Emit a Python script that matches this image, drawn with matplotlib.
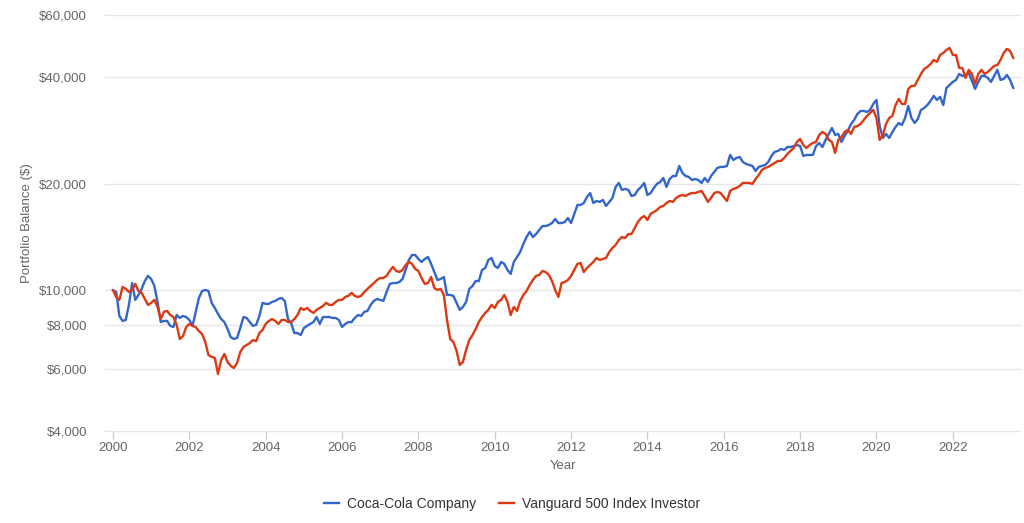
import numpy as np
import matplotlib
matplotlib.use("Agg")
import matplotlib.pyplot as plt
from matplotlib.ticker import NullLocator

plt.rcParams['font.family'] = ['Liberation Sans', 'DejaVu Sans']

# monthly portfolio balance, thousands of $, Jan 2000 .. Aug 2023
coke_k = [
    10.00, 9.89, 8.46, 8.19, 8.24, 9.09, 10.48, 9.39, 9.70, 10.09, 10.62, 10.98,
    10.76, 10.28, 9.27, 8.13, 8.19, 8.19, 7.93, 7.87, 8.51, 8.35, 8.46, 8.40,
    8.24, 7.93, 8.69, 9.51, 9.95, 10.02, 9.95, 9.21, 8.91, 8.57, 8.29, 8.13,
    7.77, 7.37, 7.28, 7.33, 7.82, 8.40, 8.35, 8.13, 7.93, 7.98, 8.46, 9.21,
    9.15, 9.15, 9.27, 9.33, 9.45, 9.51, 9.33, 8.29, 8.08, 7.57, 7.57, 7.47,
    7.82, 7.93, 8.03, 8.13, 8.40, 8.03, 8.40, 8.40, 8.40, 8.35, 8.35, 8.24,
    7.87, 8.03, 8.13, 8.13, 8.35, 8.51, 8.46, 8.69, 8.74, 9.09, 9.33, 9.45,
    9.39, 9.33, 9.89, 10.42, 10.48, 10.48, 10.55, 10.76, 11.41, 12.18, 12.58, 12.58,
    12.26, 12.02, 12.26, 12.42, 11.87, 11.26, 10.69, 10.76, 10.90, 9.70, 9.70, 9.64,
    9.21, 8.80, 8.97, 9.27, 10.09, 10.28, 10.62, 10.62, 11.41, 11.56, 12.18, 12.34,
    11.71, 11.56, 12.02, 11.87, 11.41, 11.12, 12.02, 12.42, 12.83, 13.52, 14.14, 14.62,
    14.14, 14.42, 14.81, 15.19, 15.19, 15.29, 15.49, 15.90, 15.49, 15.49, 15.59, 16.00,
    15.49, 16.43, 17.42, 17.42, 17.65, 18.35, 18.83, 17.65, 17.88, 17.77, 18.00, 17.31,
    17.77, 18.23, 19.59, 20.11, 19.21, 19.34, 19.21, 18.47, 18.59, 19.21, 19.59, 20.11,
    18.59, 18.83, 19.46, 19.98, 20.24, 20.77, 19.59, 20.63, 21.04, 21.04, 22.46, 21.46,
    21.04, 20.91, 20.50, 20.63, 20.50, 20.11, 20.77, 20.24, 21.04, 21.60, 22.17, 22.32,
    22.32, 22.46, 24.13, 23.35, 23.66, 23.82, 23.05, 22.76, 22.61, 22.46, 21.74, 22.32,
    22.46, 22.61, 23.05, 23.97, 24.61, 24.77, 25.09, 24.93, 25.41, 25.41, 25.57, 25.74,
    25.57, 23.97, 24.13, 24.13, 24.13, 25.57, 26.08, 25.41, 26.60, 27.66, 28.76, 27.48,
    27.66, 26.26, 27.30, 28.21, 29.51, 30.30, 31.50, 32.13, 32.13, 31.92, 32.34, 33.62,
    34.52, 29.13, 26.95, 27.66, 26.95, 28.02, 28.95, 29.71, 29.32, 30.69, 33.18, 30.69,
    29.71, 30.50, 32.34, 32.76, 33.40, 34.29, 35.44, 34.52, 35.21, 33.40, 37.32, 38.06,
    38.81, 39.32, 40.88, 40.36, 40.62, 41.15, 39.07, 37.08, 38.81, 40.36, 40.36, 39.83,
    38.81, 40.36, 41.97, 39.32, 39.57, 40.62, 39.32, 37.32,
]

vfinx_k = [
    10.00, 9.57, 9.39, 10.22, 10.09, 9.89, 10.02, 10.42, 9.95, 9.83, 9.45, 9.09,
    9.21, 9.39, 8.97, 8.29, 8.69, 8.74, 8.51, 8.40, 7.98, 7.28, 7.42, 7.87,
    8.03, 7.93, 7.87, 7.67, 7.52, 7.14, 6.56, 6.48, 6.44, 5.80, 6.35, 6.60,
    6.27, 6.11, 6.03, 6.23, 6.69, 6.91, 7.00, 7.09, 7.23, 7.18, 7.57, 7.72,
    8.03, 8.19, 8.29, 8.19, 8.03, 8.24, 8.24, 8.13, 8.13, 8.29, 8.51, 8.91,
    8.80, 8.91, 8.74, 8.63, 8.80, 8.91, 9.03, 9.21, 9.09, 9.09, 9.27, 9.39,
    9.39, 9.57, 9.64, 9.83, 9.64, 9.57, 9.64, 9.89, 10.09, 10.28, 10.48, 10.69,
    10.83, 10.83, 10.98, 11.34, 11.64, 11.34, 11.26, 11.41, 11.79, 12.02, 11.87, 11.49,
    11.34, 10.83, 10.42, 10.48, 10.90, 10.15, 10.02, 10.09, 9.70, 8.24, 7.28, 7.14,
    6.74, 6.15, 6.27, 6.78, 7.23, 7.47, 7.77, 8.13, 8.40, 8.63, 8.80, 9.09,
    8.91, 9.27, 9.39, 9.70, 9.27, 8.51, 8.97, 8.74, 9.33, 9.70, 9.95, 10.35,
    10.69, 10.98, 11.05, 11.34, 11.26, 11.05, 10.62, 10.02, 9.57, 10.48, 10.55, 10.69,
    10.98, 11.41, 11.87, 11.94, 11.26, 11.56, 11.79, 12.02, 12.34, 12.18, 12.26, 12.34,
    12.83, 13.17, 13.43, 13.87, 14.14, 14.05, 14.42, 14.42, 15.00, 15.59, 16.00, 16.21,
    15.80, 16.43, 16.64, 16.86, 17.20, 17.31, 17.65, 17.88, 17.77, 18.23, 18.47, 18.59,
    18.47, 18.71, 18.83, 18.83, 18.96, 19.09, 18.47, 17.77, 18.23, 18.83, 18.96, 18.83,
    18.35, 17.88, 19.09, 19.34, 19.46, 19.72, 20.11, 20.11, 20.11, 19.98, 20.63, 21.18,
    21.88, 22.17, 22.32, 22.61, 22.90, 23.20, 23.20, 23.66, 24.29, 24.77, 25.25, 26.26,
    26.78, 25.74, 25.25, 25.74, 26.08, 26.26, 27.48, 28.02, 27.66, 26.60, 26.26, 24.45,
    26.60, 27.12, 28.02, 28.39, 27.66, 28.95, 29.13, 29.51, 30.30, 31.09, 31.70, 32.34,
    30.69, 26.60, 27.48, 29.51, 30.69, 31.09, 33.40, 34.74, 33.62, 33.62, 37.08, 37.82,
    37.82, 39.32, 40.88, 42.24, 42.79, 43.62, 44.79, 44.21, 46.26, 46.87, 47.80, 48.42,
    46.26, 46.26, 42.51, 42.51, 39.83, 41.97, 40.88, 38.31, 40.88, 41.97, 40.88, 41.42,
    42.24, 43.06, 43.33, 44.79, 46.87, 48.11, 47.49, 45.38,
]

series_names = ["Coca-Cola Company", "Vanguard 500 Index Investor"]
y_ticks = [4000, 6000, 8000, 10000, 20000, 40000, 60000]
x_ticks = list(range(2000, 2023, 2))

years = 2000 + np.arange(len(coke_k)) / 12.0
coke = np.array(coke_k) * 1000
vfinx = np.array(vfinx_k) * 1000

fig = plt.figure(figsize=(10.24, 5.23), dpi=100)
ax = fig.add_axes([105 / 1024, 1 - 431 / 523, 915 / 1024, 416 / 523])

ax.plot(years, coke, color="#3366cc", lw=1.7, label=series_names[0])
ax.plot(years, vfinx, color="#dc3912", lw=1.7, label=series_names[1])

ax.set_yscale("log")
ax.set_ylim(4000, 60000)
ax.set_xlim(1999.79, 2023.76)
ax.set_yticks(y_ticks)
ax.set_yticklabels(["${:,}".format(v) for v in y_ticks])
ax.yaxis.set_minor_locator(NullLocator())
ax.set_xticks(x_ticks)
ax.set_xticklabels([str(v) for v in x_ticks])

ax.grid(axis="y", color="#e6e6e6", lw=1)
for gl in ax.get_ygridlines():
    gl.set_clip_on(False)
ax.set_axisbelow(True)
for s in ax.spines.values():
    s.set_visible(False)

ax.tick_params(axis="y", length=0, pad=13, labelsize=9.5, labelcolor="#666666")
ax.tick_params(axis="x", length=6, width=1, color="#cccccc", pad=2,
               labelsize=9.5, labelcolor="#666666")

ax.set_xlabel("Year", fontsize=9.5, color="#666666", labelpad=4)
fig.text(27 / 1024, 1 - 223 / 523, "Portfolio Balance ($)", rotation=90,
         ha="center", va="center", fontsize=9.5, color="#666666")

leg = fig.legend(loc="center", bbox_to_anchor=(0.5, 1 - 504 / 523), ncol=2,
                 frameon=False, fontsize=10, handlelength=1.1,
                 handletextpad=0.6, columnspacing=1.6)
for t in leg.get_texts():
    t.set_color("#333333")

fig.savefig("out.png", dpi=100)
